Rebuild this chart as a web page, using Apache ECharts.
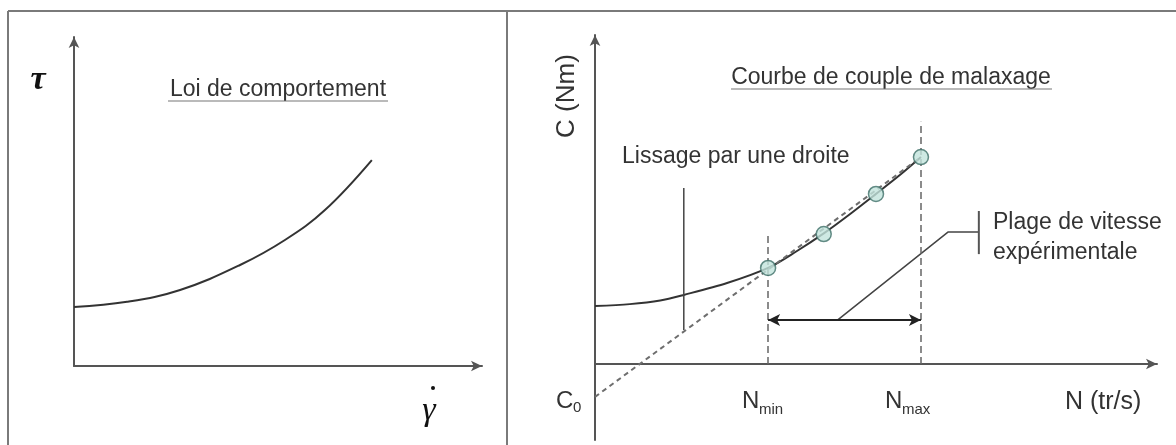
<!DOCTYPE html>
<html>
<head>
<meta charset="utf-8">
<script src="https://cdn.jsdelivr.net/npm/echarts@6/dist/echarts.min.js"></script>
<style>html,body{margin:0;padding:0;background:#fff}#c{width:1176px;height:445px}</style>
</head>
<body>
<div id="c"></div>
<script>
// ---- Data (arbitrary units) ----
// Left panel: behaviour law tau = f(gamma dot)
const leftCurveX = [0, 1.30, 2.60, 4.07, 5.17, 6.15, 7.30];
const leftCurveY = [1.79, 1.95, 2.31, 3.07, 3.83, 4.74, 6.26];
// Right panel: mixing torque curve C = f(N)
const rightCurveX = [0, 0.62, 1.16, 1.58, 2.35, 3.08, 3.58, 4.07, 4.54, 5.00, 5.43, 5.80];
const rightCurveY = [1.76, 1.82, 1.93, 2.10, 2.46, 2.92, 3.42, 3.97, 4.56, 5.17, 5.75, 6.29];
// Experimental points
const pointsX = [3.08, 4.07, 5.00, 5.80];
const pointsY = [2.92, 3.95, 5.17, 6.29];
// Linear fit (C0 intercept to last point)
const fitX = [0, 5.80];
const fitY = [-1.0, 6.29];
// Speed range limits and their guide-line tops
const nLimits = [3.08, 5.80];
const nGuideTop = [3.92, 7.36];
// Range arrow level
const rangeArrowY = 1.34;
// Leader line for "Plage de vitesse expérimentale"
const leaderX = [4.32, 6.28, 6.83];
const leaderY = [1.34, 4.01, 4.01];
const leaderTickX = [6.83, 6.83];
const leaderTickY = [3.34, 4.65];
// Pointer line for "Lissage par une droite"
const pointerX = [1.58, 1.58];
const pointerY = [1.03, 5.35];
// Texts
const leftTitle = 'Loi de comportement';
const rightTitle = 'Courbe de couple de malaxage';
const fitLabel = 'Lissage par une droite';
const rangeLabel = ['Plage de vitesse', 'expérimentale'];

const zip = (xs, ys) => xs.map((x, i) => [x, ys[i]]);
const FONT = '"Liberation Sans", Arial, sans-serif';
const SERIF = '"Liberation Serif", "DejaVu Serif", serif';
const TXT = '#333';
const AX = '#555';
const FRAME = '#7a7a7a';

const chart = echarts.init(document.getElementById('c'), null, {renderer: 'canvas'});

function axisCommon(extra) {
  return Object.assign({
    type: 'value',
    axisTick: {show: false},
    axisLabel: {show: false},
    splitLine: {show: false},
    axisLine: {show: true, symbol: ['none', 'arrow'], symbolSize: [8, 11],
      lineStyle: {color: AX, width: 2}}
  }, extra);
}

const option = {
  animation: false,
  backgroundColor: '#fff',
  grid: [
    {left: 74, top: 37, width: 408, height: 329},
    {left: 595, top: 35, width: 562, height: 405}
  ],
  xAxis: [
    axisCommon({gridIndex: 0, min: 0, max: 10}),
    axisCommon({gridIndex: 1, min: 0, max: 10})
  ],
  yAxis: [
    axisCommon({gridIndex: 0, min: 0, max: 10}),
    axisCommon({gridIndex: 1, min: -2.31, max: 10})
  ],
  series: [
    {
      type: 'line', xAxisIndex: 0, yAxisIndex: 0,
      data: zip(leftCurveX, leftCurveY), smooth: 0.4, showSymbol: false,
      lineStyle: {color: '#333', width: 2}
    },
    {
      type: 'line', xAxisIndex: 1, yAxisIndex: 1,
      data: zip(rightCurveX, rightCurveY), smooth: 0.3, showSymbol: false,
      lineStyle: {color: '#333', width: 2}
    },
    {
      type: 'line', xAxisIndex: 1, yAxisIndex: 1,
      data: zip(fitX, fitY), showSymbol: false,
      lineStyle: {color: '#6e6e6e', width: 2, type: [5, 4]}
    },
    {
      type: 'line', xAxisIndex: 1, yAxisIndex: 1,
      data: zip(pointerX, pointerY), showSymbol: false,
      lineStyle: {color: '#444', width: 1.5}
    },
    {
      type: 'line', xAxisIndex: 1, yAxisIndex: 1,
      data: zip(leaderX, leaderY), showSymbol: false,
      lineStyle: {color: '#444', width: 1.5}
    },
    {
      type: 'line', xAxisIndex: 1, yAxisIndex: 1,
      data: zip(leaderTickX, leaderTickY), showSymbol: false,
      lineStyle: {color: '#555', width: 2}
    },
    {
      type: 'line', xAxisIndex: 1, yAxisIndex: 1,
      data: [], showSymbol: false,
      markLine: {
        silent: true, symbol: ['none', 'none'], label: {show: false},
        lineStyle: {color: '#666', width: 1.5, type: [7, 4]},
        data: nLimits.map((n, i) => [{coord: [n, 0]}, {coord: [n, nGuideTop[i]]}])
      }
    },
    {
      type: 'line', xAxisIndex: 1, yAxisIndex: 1,
      data: [], showSymbol: false,
      markLine: {
        silent: true, symbol: ['arrow', 'arrow'], symbolSize: [9, 12], label: {show: false},
        lineStyle: {color: '#222', width: 2, type: 'solid'},
        data: [[{coord: [nLimits[0], rangeArrowY]}, {coord: [nLimits[1], rangeArrowY]}]]
      }
    },
    {
      type: 'scatter', xAxisIndex: 1, yAxisIndex: 1,
      data: zip(pointsX, pointsY), symbol: 'circle', symbolSize: 15, z: 5,
      itemStyle: {color: '#c2e4dc', borderColor: '#3f6f68', borderWidth: 1.5}
    }
  ],
  graphic: [
    // frame
    {type: 'line', shape: {x1: 8, y1: 11, x2: 1176, y2: 11}, style: {stroke: FRAME, lineWidth: 2}},
    {type: 'line', shape: {x1: 8, y1: 11, x2: 8, y2: 445}, style: {stroke: FRAME, lineWidth: 2}},
    {type: 'line', shape: {x1: 507, y1: 11, x2: 507, y2: 445}, style: {stroke: FRAME, lineWidth: 2}},
    // titles
    {type: 'text', x: 278, y: 90, style: {text: leftTitle, fill: TXT, font: '23px ' + FONT, align: 'center', verticalAlign: 'middle'}},
    {type: 'line', shape: {x1: 168, y1: 101, x2: 388, y2: 101}, style: {stroke: '#777', lineWidth: 1.2}},
    {type: 'text', x: 891, y: 78, style: {text: rightTitle, fill: TXT, font: '23px ' + FONT, align: 'center', verticalAlign: 'middle'}},
    {type: 'line', shape: {x1: 731, y1: 89, x2: 1052, y2: 89}, style: {stroke: '#777', lineWidth: 1.2}},
    // left axis symbols
    {type: 'text', x: 38, y: 80, style: {text: 'τ', fill: '#111', font: 'italic bold 34px ' + SERIF, align: 'center', verticalAlign: 'middle'}},
    {type: 'text', x: 429, y: 411, style: {text: 'γ', fill: '#111', font: 'italic 34px ' + SERIF, align: 'center', verticalAlign: 'middle'}},
    {type: 'circle', shape: {cx: 433, cy: 388, r: 2}, style: {fill: '#111'}},
    // right axis labels
    {type: 'text', x: 567, y: 96, rotation: Math.PI / 2, style: {text: 'C (Nm)', fill: TXT, font: '26px ' + FONT, align: 'center', verticalAlign: 'middle'}},
    {type: 'text', x: 1065, y: 402, style: {text: 'N (tr/s)', fill: TXT, font: '25px ' + FONT, align: 'left', verticalAlign: 'middle'}},
    {type: 'text', x: 556, y: 401, style: {text: 'C', fill: TXT, font: '24px ' + FONT, align: 'left', verticalAlign: 'middle'}},
    {type: 'text', x: 573, y: 408, style: {text: '0', fill: TXT, font: '15px ' + FONT, align: 'left', verticalAlign: 'middle'}},
    {type: 'text', x: 742, y: 401, style: {text: 'N', fill: TXT, font: '24px ' + FONT, align: 'left', verticalAlign: 'middle'}},
    {type: 'text', x: 759, y: 410, style: {text: 'min', fill: TXT, font: '15px ' + FONT, align: 'left', verticalAlign: 'middle'}},
    {type: 'text', x: 885, y: 401, style: {text: 'N', fill: TXT, font: '24px ' + FONT, align: 'left', verticalAlign: 'middle'}},
    {type: 'text', x: 902, y: 410, style: {text: 'max', fill: TXT, font: '15px ' + FONT, align: 'left', verticalAlign: 'middle'}},
    // annotations
    {type: 'text', x: 622, y: 157, style: {text: fitLabel, fill: TXT, font: '23px ' + FONT, align: 'left', verticalAlign: 'middle'}},
    {type: 'text', x: 993, y: 223, style: {text: rangeLabel[0], fill: TXT, font: '23px ' + FONT, align: 'left', verticalAlign: 'middle'}},
    {type: 'text', x: 993, y: 253, style: {text: rangeLabel[1], fill: TXT, font: '23px ' + FONT, align: 'left', verticalAlign: 'middle'}}
  ]
};
chart.setOption(option);
</script>
</body>
</html>
